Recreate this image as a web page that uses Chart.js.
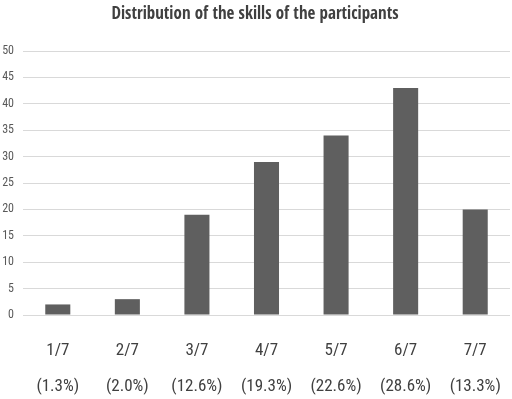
<!DOCTYPE html>
<html>
<head>
<meta charset="utf-8">
<script src="https://cdn.jsdelivr.net/npm/chart.js@4"></script>
<style>
  html, body { margin: 0; padding: 0; background: #fff; }
</style>
</head>
<body>
<canvas id="myChart" width="512" height="399"></canvas>
<script>
const skillLabels = ["1/7", "2/7", "3/7", "4/7", "5/7", "6/7", "7/7"];
const shareLabels = ["(1.3%)", "(2.0%)", "(12.6%)", "(19.3%)", "(22.6%)", "(28.6%)", "(13.3%)"];
const participants = [2, 3, 19, 29, 34, 43, 20];
const yTicks = [0, 5, 10, 15, 20, 25, 30, 35, 40, 45, 50];

const narrow = "'Roboto Condensed', 'Liberation Sans', sans-serif";

const data = {
  labels: skillLabels.map((s, i) => [s, shareLabels[i]]),
  datasets: [
    {
      label: "Participants",
      data: participants,
      backgroundColor: "#5f5f5f",
      categoryPercentage: 1,
      barPercentage: 0.36,
    },
  ],
};

const config = {
  type: "bar",
  data: data,
  options: {
    responsive: false,
    animation: false,
    layout: { padding: { left: 0, right: 2, top: 0, bottom: 0 } },
    plugins: {
      legend: { display: false },
      tooltip: { enabled: false },
      title: {
        display: true,
        text: "Distribution of the skills of the participants",
        color: "#404040",
        font: { family: "'Open Sans Condensed', 'Open Sans', sans-serif", size: 17, weight: "bold" },
        padding: { top: 4, bottom: 26.6 },
      },
    },
    scales: {
      x: {
        afterFit: function (scale) {
          scale.height = 84;
          scale.paddingLeft = 0;
          scale.paddingRight = 0;
        },
        grid: { display: false, drawTicks: false },
        border: { display: false },
        ticks: {
          color: "#404040",
          font: { family: narrow, size: 17, lineHeight: 2.118 },
          padding: 18,
          maxRotation: 0,
        },
      },
      y: {
        min: 0,
        max: 50,
        afterFit: function (scale) {
          scale.width = 23;
          scale.paddingTop = 0;
          scale.paddingBottom = 0;
        },
        afterBuildTicks: function (scale) {
          scale.ticks = yTicks.map((v) => ({ value: v }));
        },
        grid: { color: "#d9d9d9", lineWidth: 1, drawTicks: false },
        border: { display: false },
        ticks: {
          color: "#595959",
          font: { family: narrow, size: 12 },
          padding: 9,
        },
      },
    },
  },
};

const myChart = new Chart(document.getElementById("myChart"), config);
</script>
</body>
</html>
